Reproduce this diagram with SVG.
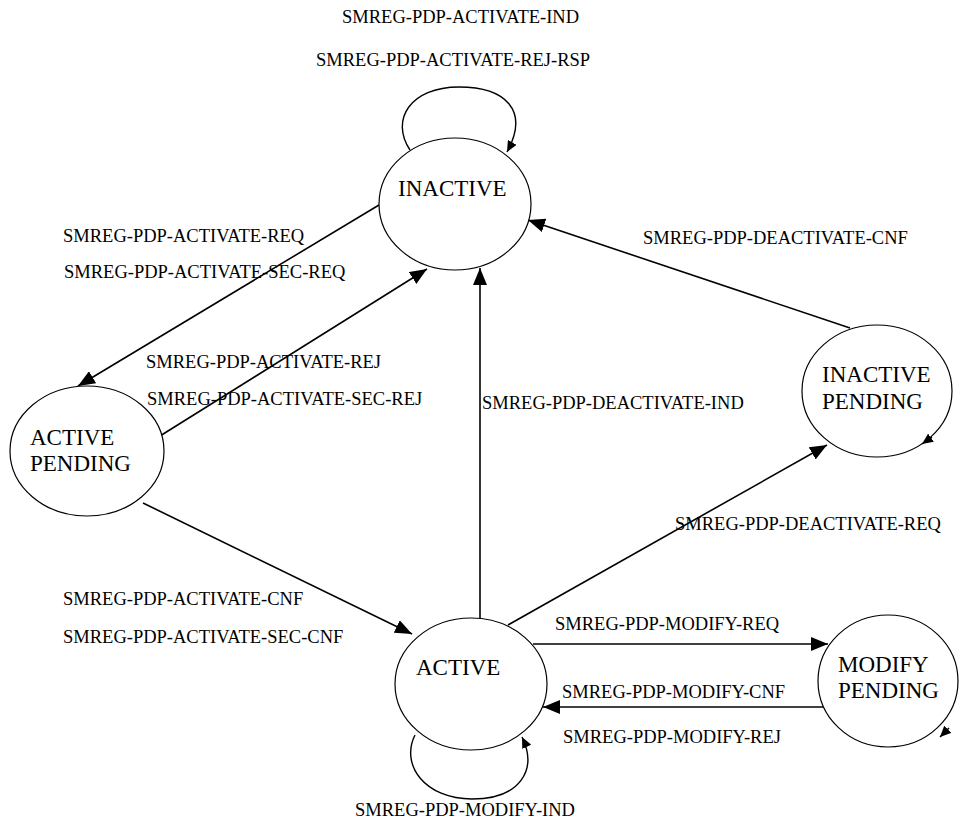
<svg xmlns="http://www.w3.org/2000/svg" width="959" height="821" viewBox="0 0 959 821">
<style>
.node{fill:#fff;stroke:#000;stroke-width:1.2}
.nt{font-family:"Liberation Serif","Times New Roman",serif;font-size:23px;fill:#000}
.lbl{font-family:"Liberation Serif","Times New Roman",serif;font-size:18.5px;fill:#000}
.c{fill:none;stroke:#000;stroke-width:1.6}
.lp{fill:none;stroke:#000;stroke-width:1.4}
</style>
<defs>
<marker id="ah" markerUnits="userSpaceOnUse" markerWidth="18" markerHeight="14" refX="17" refY="7" orient="auto"><path d="M0,0 L17,7 L0,14 z" fill="#000"/></marker>
<marker id="sh" markerUnits="userSpaceOnUse" markerWidth="12" markerHeight="10" refX="11" refY="5" orient="auto"><path d="M0,0 L11,5 L0,10 z" fill="#000"/></marker>
</defs>
<g id="loops">
<path class="lp" d="M410,150 C390,120 410,87 459,87 C505,87 530,110 507,152" marker-end="url(#sh)"/>
<path class="lp" d="M415,735 C400,765 425,799 472,799 C520,799 538,770 522,737" marker-end="url(#sh)"/>
</g>
<g id="connectors">
<line class="c" x1="379" y1="205" x2="78" y2="386" marker-end="url(#ah)"/>
<line class="c" x1="160" y1="436" x2="427" y2="269" marker-end="url(#ah)"/>
<line class="c" x1="143" y1="503" x2="412" y2="634" marker-end="url(#ah)"/>
<line class="c" x1="480" y1="618" x2="480" y2="268" marker-end="url(#ah)"/>
<line class="c" x1="508" y1="625" x2="827" y2="445" marker-end="url(#ah)"/>
<line class="c" x1="850" y1="328" x2="528" y2="220" marker-end="url(#ah)"/>
<line class="c" x1="533" y1="644" x2="828" y2="644" marker-end="url(#ah)"/>
<line class="c" x1="823" y1="707" x2="543" y2="707" marker-end="url(#ah)"/>
</g>
<g id="n-inactive">
<ellipse class="node" cx="455" cy="204" rx="76" ry="66"/>
<text class="nt" x="398" y="196">INACTIVE</text>
</g>
<g id="n-active-pending">
<ellipse class="node" cx="87" cy="451" rx="77" ry="65"/>
<text class="nt" x="30" y="445">ACTIVE</text>
<text class="nt" x="30" y="471">PENDING</text>
</g>
<g id="n-inactive-pending">
<ellipse class="node" cx="877" cy="391" rx="75" ry="66"/>
<text class="nt" x="822" y="382">INACTIVE</text>
<text class="nt" x="822" y="409">PENDING</text>
<path class="lp" d="M932,437 L922,444" marker-end="url(#sh)"/>
</g>
<g id="n-active">
<ellipse class="node" cx="471" cy="684" rx="76" ry="66"/>
<text class="nt" x="416" y="675">ACTIVE</text>
</g>
<g id="n-modify-pending">
<ellipse class="node" cx="888" cy="681" rx="70" ry="66"/>
<text class="nt" x="838" y="672">MODIFY</text>
<text class="nt" x="838" y="698">PENDING</text>
<path class="lp" d="M949,728 L940,737" marker-end="url(#sh)"/>
</g>
<g id="labels">
<text class="lbl" x="342" y="23">SMREG-PDP-ACTIVATE-IND</text>
<text class="lbl" x="316" y="66">SMREG-PDP-ACTIVATE-REJ-RSP</text>
<text class="lbl" x="63" y="242">SMREG-PDP-ACTIVATE-REQ</text>
<text class="lbl" x="64" y="278">SMREG-PDP-ACTIVATE-SEC-REQ</text>
<text class="lbl" x="146" y="368">SMREG-PDP-ACTIVATE-REJ</text>
<text class="lbl" x="147" y="405">SMREG-PDP-ACTIVATE-SEC-REJ</text>
<text class="lbl" x="482" y="409">SMREG-PDP-DEACTIVATE-IND</text>
<text class="lbl" x="643" y="244">SMREG-PDP-DEACTIVATE-CNF</text>
<text class="lbl" x="675" y="530">SMREG-PDP-DEACTIVATE-REQ</text>
<text class="lbl" x="63" y="605">SMREG-PDP-ACTIVATE-CNF</text>
<text class="lbl" x="63" y="643">SMREG-PDP-ACTIVATE-SEC-CNF</text>
<text class="lbl" x="555" y="630">SMREG-PDP-MODIFY-REQ</text>
<text class="lbl" x="562" y="698">SMREG-PDP-MODIFY-CNF</text>
<text class="lbl" x="563" y="743">SMREG-PDP-MODIFY-REJ</text>
<text class="lbl" x="355" y="816">SMREG-PDP-MODIFY-IND</text>
</g>
</svg>
